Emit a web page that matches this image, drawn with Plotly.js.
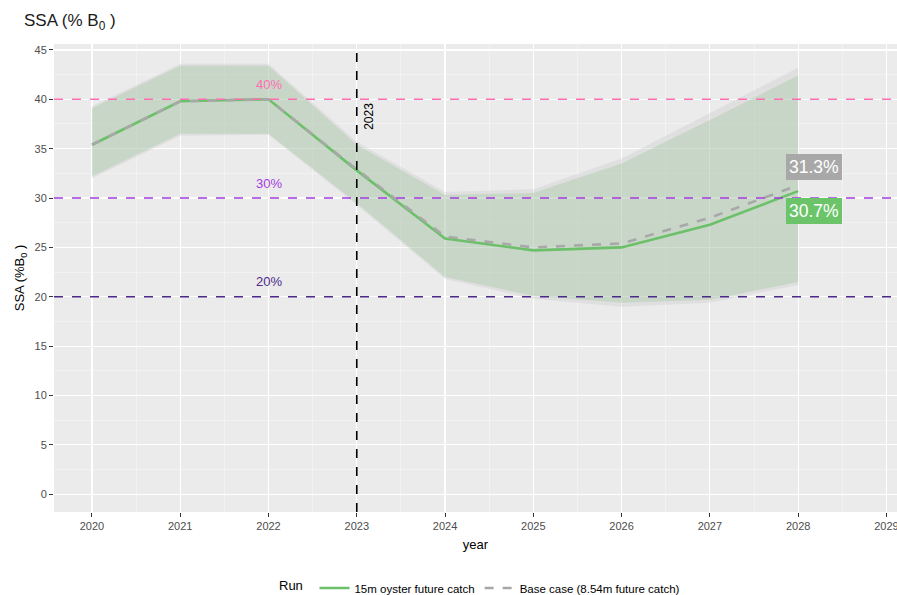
<!DOCTYPE html>
<html>
<head>
<meta charset="utf-8">
<script src="https://cdn.plot.ly/plotly-3.0.1.min.js"></script>
<style>
  html, body { margin: 0; padding: 0; background: #ffffff; }
  #chart { width: 897px; height: 595px; }
</style>
</head>
<body>
<div id="chart"></div>
<script>
// Spawning stock abundance projections (% of B0) by run
const years = [2020, 2021, 2022, 2023, 2024, 2025, 2026, 2027, 2028];

const runNames = ["15m oyster future catch", "Base case (8.54m future catch)"];

// 15m oyster future catch
const oysterMid   = [35.4, 39.8, 40.0, 32.8, 25.9, 24.7, 25.0, 27.3, 30.7];
const oysterLower = [32.2, 36.5, 36.5, 29.5, 22.0, 20.1, 19.4, 19.7, 21.5];
const oysterUpper = [39.1, 43.4, 43.4, 35.4, 30.3, 30.5, 33.5, 37.9, 42.4];

// Base case (8.54m future catch)
const baseMid   = [35.4, 39.8, 40.0, 32.9, 26.1, 25.0, 25.4, 28.0, 31.3];
const baseLower = [32.0, 36.3, 36.4, 29.3, 21.8, 19.8, 19.0, 19.4, 21.2];
const baseUpper = [39.3, 43.6, 43.6, 35.7, 30.6, 30.9, 34.0, 38.6, 43.2];

// Reference levels
const refLevels = [40, 30, 20];
const refLabels = ["40%", "30%", "20%"];
const refColors = ["#ff6eb4", "#a23be0", "#4b2a8c"];

const projStartYear = 2023;

const greenLine = "#6cc06a";
const greyLine  = "#a8a8a8";

function ribbon(lower, upper, fill) {
  return {
    x: years.concat(years.slice().reverse()),
    y: upper.concat(lower.slice().reverse()),
    type: "scatter",
    mode: "lines",
    fill: "toself",
    fillcolor: fill,
    line: { width: 0 },
    hoverinfo: "skip",
    showlegend: false
  };
}

const traces = [
  ribbon(baseLower, baseUpper, "rgba(200,200,200,0.35)"),
  ribbon(oysterLower, oysterUpper, "rgba(140,190,135,0.28)"),
  {
    x: years, y: oysterMid, type: "scatter", mode: "lines",
    name: runNames[0],
    line: { color: greenLine, width: 2.6 }
  },
  {
    x: years, y: baseMid, type: "scatter", mode: "lines",
    name: runNames[1],
    line: { color: greyLine, width: 2.6, dash: "dash" }
  }
];

const shapes = refLevels.map((v, i) => ({
  type: "line", xref: "paper", x0: 0, x1: 1, yref: "y", y0: v, y1: v,
  line: { color: refColors[i], width: 1.4, dash: "dash" }, layer: "above"
}));
shapes.push({
  type: "line", xref: "x", x0: projStartYear, x1: projStartYear,
  yref: "paper", y0: 0, y1: 1,
  line: { color: "#000000", width: 1.6, dash: "dash" }, layer: "above"
});

const annotations = refLevels.map((v, i) => ({
  x: 2022, y: v + 1.5, xref: "x", yref: "y",
  text: refLabels[i], showarrow: false,
  font: { family: "Liberation Sans, Arial, sans-serif", size: 13, color: refColors[i] }
}));
annotations.push({
  x: projStartYear, y: 38.3, xref: "x", yref: "y", xshift: 12,
  text: String(projStartYear), textangle: -90, showarrow: false,
  font: { family: "Liberation Sans, Arial, sans-serif", size: 12, color: "#000000" }
});

// End-of-projection value labels
const last = years.length - 1;
annotations.push({
  x: years[last], y: baseMid[last] + 1.8, xref: "x", yref: "y",
  xanchor: "left", xshift: -12,
  text: baseMid[last].toFixed(1) + "%", showarrow: false,
  bgcolor: "#a8a8a8", bordercolor: "#a8a8a8", borderpad: 2,
  font: { family: "Liberation Sans, Arial, sans-serif", size: 17.5, color: "#ffffff" }
});
annotations.push({
  x: years[last], y: oysterMid[last] - 2.0, xref: "x", yref: "y",
  xanchor: "left", xshift: -12,
  text: oysterMid[last].toFixed(1) + "%", showarrow: false,
  bgcolor: "#6cc46a", bordercolor: "#6cc46a", borderpad: 2,
  font: { family: "Liberation Sans, Arial, sans-serif", size: 17.5, color: "#ffffff" }
});

const tickFont = { family: "Liberation Sans, Arial, sans-serif", size: 11, color: "#4d4d4d" };

const layout = {
  width: 897, height: 595,
  margin: { l: 54, r: 0, t: 44, b: 83 },
  paper_bgcolor: "#ffffff",
  plot_bgcolor: "#ebebeb",
  font: { family: "Liberation Sans, Arial, sans-serif" },
  title: {
    text: "SSA (% B<sub>0</sub> )",
    xref: "container", x: 24 / 897, xanchor: "left",
    yref: "container", y: 1 - 20 / 595, yanchor: "middle",
    font: { size: 17, color: "#1a1a1a" }
  },
  xaxis: {
    range: [2019.57, 2029.12],
    tickmode: "linear", tick0: 2020, dtick: 1,
    showgrid: true, gridcolor: "#ffffff", gridwidth: 1.2,
    minor: { dtick: 0.5, tick0: 2019.5, showgrid: true, gridcolor: "#f6f6f6", gridwidth: 0.6, ticks: "" },
    zeroline: false, showline: false,
    ticks: "outside", ticklen: 4, tickcolor: "#333333", tickwidth: 1,
    tickfont: tickFont,
    ticklabeloverflow: "allow",
    title: { text: "year", font: { size: 13, color: "#000000" }, standoff: 8 }
  },
  yaxis: {
    range: [-1.8, 45.6],
    tickmode: "linear", tick0: 0, dtick: 5,
    showgrid: true, gridcolor: "#ffffff", gridwidth: 1.2,
    minor: { dtick: 2.5, tick0: 0, showgrid: true, gridcolor: "#f6f6f6", gridwidth: 0.6, ticks: "" },
    zeroline: false, showline: false,
    ticks: "outside", ticklen: 4, tickcolor: "#333333", tickwidth: 1,
    tickfont: tickFont,
    title: { text: "SSA (%B<sub>0</sub> )", font: { size: 13, color: "#000000" }, standoff: 6 }
  },
  showlegend: true,
  legend: {
    orientation: "h",
    xref: "container", x: 481 / 897, xanchor: "center",
    yref: "container", y: 1 - 588 / 595, yanchor: "middle",
    title: { text: "Run ", font: { size: 13, color: "#000000" }, side: "left" },
    font: { size: 11.5, color: "#000000" },
    bgcolor: "rgba(0,0,0,0)",
    itemwidth: 30
  },
  shapes: shapes,
  annotations: annotations
};

Plotly.newPlot("chart", traces, layout, { displayModeBar: false, staticPlot: true });
</script>
</body>
</html>
